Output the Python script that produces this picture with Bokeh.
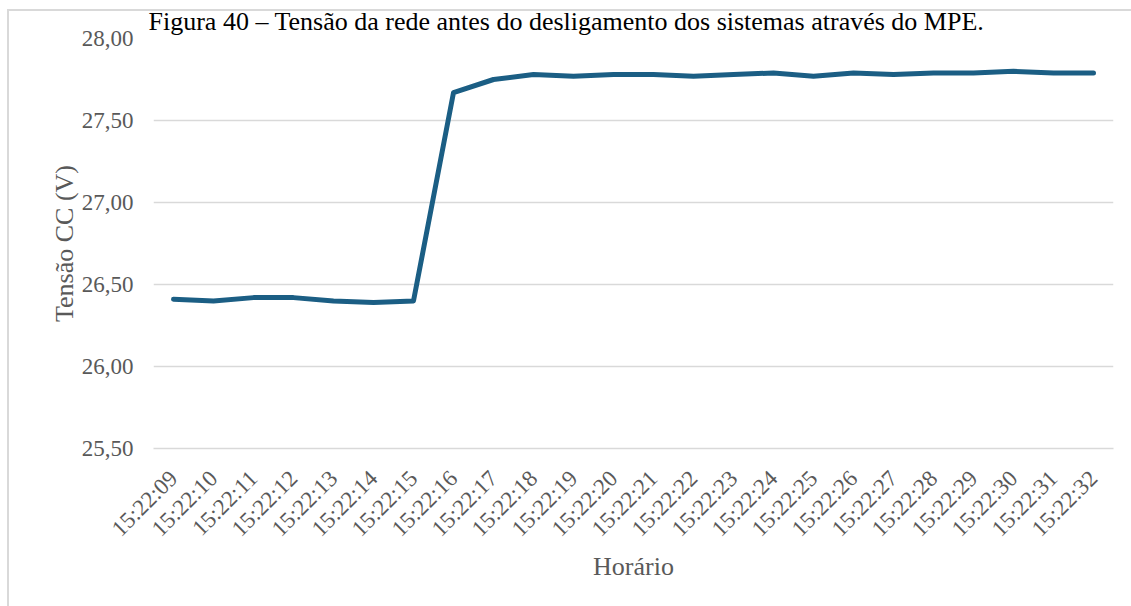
import math
from bokeh.plotting import figure
from bokeh.models import FactorRange, Range1d
from bokeh.embed import file_html
from bokeh.resources import INLINE

# ---- data ----
times = ["15:22:09", "15:22:10", "15:22:11", "15:22:12", "15:22:13", "15:22:14",
         "15:22:15", "15:22:16", "15:22:17", "15:22:18", "15:22:19", "15:22:20",
         "15:22:21", "15:22:22", "15:22:23", "15:22:24", "15:22:25", "15:22:26",
         "15:22:27", "15:22:28", "15:22:29", "15:22:30", "15:22:31", "15:22:32"]
voltage = [26.41, 26.40, 26.42, 26.42, 26.40, 26.39, 26.40, 27.67, 27.75, 27.78,
           27.77, 27.78, 27.78, 27.77, 27.78, 27.79, 27.77, 27.79, 27.78, 27.79,
           27.79, 27.80, 27.79, 27.79]
y_ticks = [25.5, 26.0, 26.5, 27.0, 27.5, 28.0]
y_tick_labels = ["25,50", "26,00", "26,50", "27,00", "27,50", "28,00"]
title_text = "Figura 40 – Tensão da rede antes do desligamento dos sistemas através do MPE."
x_title = "Horário"
y_title = "Tensão CC (V)"

FONT = "Liberation Serif"
GRID = "#d9d9d9"
TXT = "#595959"

p = figure(x_range=FactorRange(*times, range_padding=0),
           y_range=Range1d(25.5, 28.0),
           width=1131, height=606,
           output_backend="svg", toolbar_location=None,
           min_border_left=153, min_border_right=18,
           min_border_top=38, min_border_bottom=158)
# chart box lines (left and top edges) drawn behind a transparent canvas border
p.styles = {
    "background": ("linear-gradient(#d9d9d9, #d9d9d9) 7px 9px / 2px 100% no-repeat, "
                   "linear-gradient(#d9d9d9, #d9d9d9) 7px 9px / 100% 2px no-repeat, white")
}
p.outline_line_color = None
p.background_fill_color = "white"
p.border_fill_color = None

p.title.text = title_text
p.title.align = "left"
p.title.offset = -5
p.title.standoff = 6
p.title.text_font = FONT
p.title.text_font_size = "26px"
p.title.text_font_style = "normal"
p.title.text_color = "black"

p.xgrid.grid_line_color = None
p.ygrid.grid_line_color = GRID
p.ygrid.grid_line_width = 1.5

p.yaxis.ticker = y_ticks
p.yaxis.major_label_overrides = {t: l for t, l in zip(y_ticks, y_tick_labels)}
p.yaxis.axis_line_color = None
p.yaxis.major_tick_line_color = None
p.yaxis.minor_tick_line_color = None
p.yaxis.major_tick_out = 0
p.yaxis.major_tick_in = 0
p.yaxis.major_label_standoff = 20
p.yaxis.axis_label = y_title
p.yaxis.axis_label_standoff = 0

p.xaxis.axis_line_color = GRID
p.xaxis.axis_line_width = 1.5
p.xaxis.major_tick_line_color = None
p.xaxis.minor_tick_line_color = None
p.xaxis.major_tick_out = 0
p.xaxis.major_tick_in = 0
p.xaxis.major_label_orientation = math.pi / 4
p.xaxis.major_label_standoff = 26
p.xaxis.axis_label = x_title
p.xaxis.axis_label_standoff = -1

for ax in (p.xaxis, p.yaxis):
    ax.major_label_text_font = FONT
    ax.major_label_text_font_size = "23px"
    ax.major_label_text_color = TXT
    ax.axis_label_text_font = FONT
    ax.axis_label_text_font_size = "26px"
    ax.axis_label_text_color = TXT
    ax.axis_label_text_font_style = "normal"

p.line(x=times, y=voltage, line_width=5, line_color="#1b5e84",
       line_join="round", line_cap="round")

open("out.html", "w").write(file_html(p, INLINE))
